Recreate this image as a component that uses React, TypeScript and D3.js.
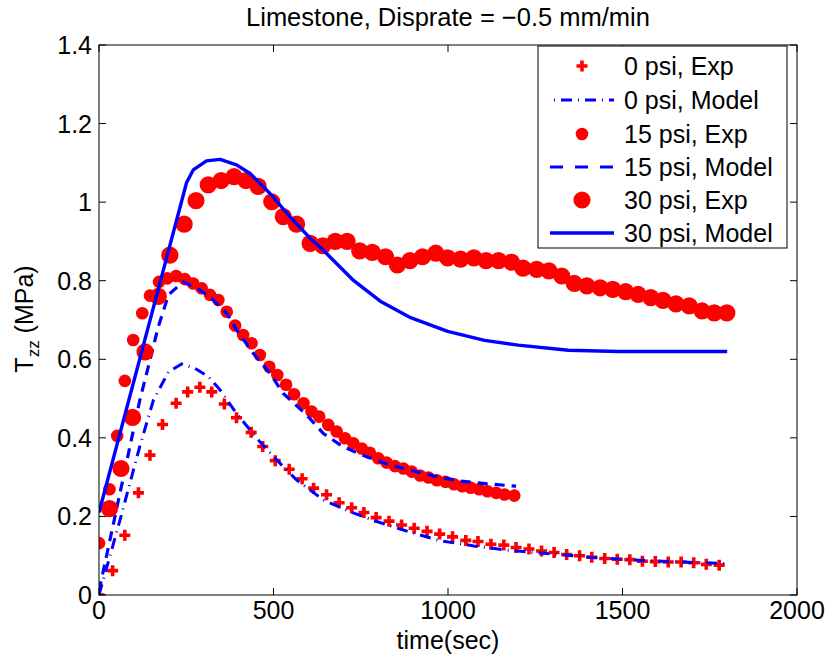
import React from "react";
import * as d3 from "d3";

const xTicks = [0, 500, 1000, 1500, 2000];
const yTicks = [0, 0.2, 0.4, 0.6, 0.8, 1, 1.2, 1.4];

const exp0T = [0,39,74,113,146,182,221,254,289,323,359,394,436,469,505,545,582,615,652,688,724,759,794,831,867,903,940,976,1013,1051,1086,1123,1160,1195,1232,1268,1304,1340,1377,1412,1449,1485,1521,1557,1594,1631,1668,1704,1740,1777];
const exp0V = [0,0.062,0.152,0.26,0.356,0.434,0.488,0.517,0.529,0.517,0.486,0.451,0.414,0.378,0.342,0.32,0.296,0.272,0.255,0.235,0.222,0.21,0.197,0.188,0.178,0.17,0.162,0.155,0.148,0.139,0.136,0.129,0.127,0.121,0.117,0.112,0.108,0.103,0.1,0.096,0.093,0.091,0.09,0.086,0.085,0.084,0.084,0.082,0.078,0.076];

const model0T = [0,60,118,156,199,237,275,313,347,394,461,509,566,643,719,796,891,978,1074,1162,1248,1335,1422,1518,1615,1702,1800];
const model0V = [0,0.19,0.382,0.496,0.568,0.588,0.577,0.556,0.522,0.462,0.39,0.344,0.293,0.242,0.212,0.187,0.16,0.138,0.125,0.115,0.108,0.102,0.095,0.09,0.086,0.083,0.08];

const exp15T = [0,30,52,74,98,124,146,172,196,221,246,270,294,318,342,366,390,413,437,461,488,511,536,559,586,609,631,657,681,705,729,753,776,800,824,848,872,896,920,944,968,993,1017,1041,1065,1089,1113,1138,1162,1190];
const exp15V = [0.132,0.269,0.405,0.545,0.649,0.717,0.762,0.797,0.806,0.812,0.804,0.793,0.781,0.764,0.751,0.721,0.686,0.662,0.641,0.611,0.581,0.56,0.535,0.511,0.488,0.467,0.454,0.433,0.416,0.399,0.386,0.373,0.362,0.348,0.337,0.328,0.322,0.314,0.304,0.299,0.292,0.288,0.282,0.277,0.273,0.269,0.264,0.26,0.256,0.253];

const model15T = [0,117,141,170,199,241,289,318,366,394,442,490,528,595,643,700,767,834,901,959,1036,1113,1195];
const model15V = [0.01,0.496,0.58,0.683,0.764,0.797,0.776,0.759,0.717,0.675,0.615,0.564,0.513,0.458,0.411,0.377,0.352,0.331,0.316,0.303,0.29,0.283,0.277];

const exp30T = [30,63,96,132,170,203,244,278,313,350,387,421,456,495,528,566,605,641,677,711,747,783,821,855,891,927,965,999,1036,1074,1109,1145,1182,1215,1254,1289,1326,1362,1398,1436,1472,1509,1545,1581,1616,1653,1691,1728,1763,1799];
const exp30V = [0.22,0.322,0.452,0.619,0.76,0.865,0.944,1.004,1.044,1.055,1.065,1.055,1.04,1.001,0.963,0.944,0.895,0.889,0.9,0.9,0.876,0.872,0.861,0.84,0.851,0.861,0.87,0.858,0.855,0.858,0.851,0.851,0.847,0.832,0.829,0.825,0.812,0.793,0.787,0.782,0.778,0.772,0.765,0.757,0.75,0.741,0.736,0.723,0.718,0.718];

const model30T = [0,251,270,308,347,394,433,490,547,605,640,730,806,893,999,1105,1201,1345,1489,1633,1800];
const model30V = [0.21,1.05,1.082,1.105,1.109,1.095,1.073,1.022,0.963,0.908,0.88,0.8,0.748,0.706,0.671,0.648,0.636,0.623,0.62,0.62,0.62];

const legendLabels = ["0 psi, Exp", "0 psi, Model", "15 psi, Exp", "15 psi, Model", "30 psi, Exp", "30 psi, Model"];

const RED = "#ff0000";
const BLUE = "#0000ff";
const FONT = "'Liberation Sans', Arial, Helvetica, sans-serif";
const FS = 25;

const L = 99, R = 797, T = 45, B = 595;

export default function App() {
  const x = d3.scaleLinear().domain([0, 2000]).range([L, R]);
  const y = d3.scaleLinear().domain([0, 1.4]).range([B, T]);
  const mkLine = (ts: number[], vs: number[]) =>
    d3.line<number>().x((_, i) => x(ts[i])).y((v) => y(v))(vs) || "";

  const plus = (cx: number, cy: number, key: any) => (
    <path key={key} d={`M${cx - 5.5},${cy}H${cx + 5.5}M${cx},${cy - 5.5}V${cy + 5.5}`} stroke={RED} strokeWidth={3.6} fill="none" />
  );

  const dashDot = "11,6,1,6";
  const dashed = "10,7";

  const lx0 = 550, lx1 = 614, lmx = 582, ltx = 624;
  const rowY = [66, 100, 134, 167, 200, 233];

  return (
    <svg width={827} height={664} style={{ position: "absolute", left: 0, top: 0, background: "#fff" }} fontFamily={FONT}>
      <rect x={0} y={0} width={827} height={664} fill="#fff" />
      <defs>
        <clipPath id="plotclip">
          <rect x={L} y={T} width={R - L} height={B - T} />
        </clipPath>
      </defs>
      <g clipPath="url(#plotclip)">
        {exp0T.map((t, i) => plus(x(t), y(exp0V[i]), "p" + i))}
        <path d={mkLine(model0T, model0V)} fill="none" stroke={BLUE} strokeWidth={3} strokeDasharray={dashDot} />
        {exp15T.map((t, i) => (
          <circle key={"c15" + i} cx={x(t)} cy={y(exp15V[i])} r={6.3} fill={RED} />
        ))}
        <path d={mkLine(model15T, model15V)} fill="none" stroke={BLUE} strokeWidth={3.2} strokeDasharray={dashed} />
        {exp30T.map((t, i) => (
          <circle key={"c30" + i} cx={x(t)} cy={y(exp30V[i])} r={8.6} fill={RED} />
        ))}
        <path d={mkLine(model30T, model30V)} fill="none" stroke={BLUE} strokeWidth={3.4} strokeLinejoin="round" />
      </g>
      <rect x={L} y={T} width={R - L} height={B - T} fill="none" stroke="#000" strokeWidth={1} />
      {xTicks.map((t) => (
        <g key={"xt" + t}>
          <line x1={x(t)} x2={x(t)} y1={B} y2={B - 7} stroke="#000" />
          <line x1={x(t)} x2={x(t)} y1={T} y2={T + 7} stroke="#000" />
          <text x={x(t)} y={619} fontSize={FS} textAnchor="middle" fill="#000">{t}</text>
        </g>
      ))}
      {yTicks.map((v) => (
        <g key={"yt" + v}>
          <line x1={L} x2={L + 7} y1={y(v)} y2={y(v)} stroke="#000" />
          <line x1={R} x2={R - 7} y1={y(v)} y2={y(v)} stroke="#000" />
          <text x={92} y={y(v) + 9} fontSize={FS} textAnchor="end" fill="#000">{String(v)}</text>
        </g>
      ))}
      <text x={448} y={26} fontSize={25.5} textAnchor="middle" fill="#000">Limestone, Disprate = −0.5 mm/min</text>
      <text x={448} y={649} fontSize={FS} textAnchor="middle" fill="#000">time(sec)</text>
      <text transform="translate(33,319) rotate(-90)" fontSize={FS} textAnchor="middle" fill="#000">
        T<tspan fontSize={17} dy={6}>zz</tspan><tspan dy={-6}> (MPa)</tspan>
      </text>
      <rect x={538} y={46} width={249} height={202} fill="#fff" stroke="#000" strokeWidth={1} />
      {plus(lmx, rowY[0], "lg0")}
      <line x1={lx0} x2={lx1} y1={rowY[1]} y2={rowY[1]} stroke={BLUE} strokeWidth={3} strokeDasharray={dashDot} strokeDashoffset={-11} />
      <circle cx={lmx} cy={rowY[2]} r={6.3} fill={RED} />
      <line x1={lx0} x2={lx1} y1={rowY[3]} y2={rowY[3]} stroke={BLUE} strokeWidth={3.2} strokeDasharray="13,12" />
      <circle cx={lmx} cy={rowY[4]} r={8.6} fill={RED} />
      <line x1={lx0} x2={lx1} y1={rowY[5]} y2={rowY[5]} stroke={BLUE} strokeWidth={3.4} />
      {legendLabels.map((s, i) => (
        <text key={"lt" + i} x={ltx} y={rowY[i] + 9} fontSize={FS} fill="#000">{s}</text>
      ))}
    </svg>
  );
}
